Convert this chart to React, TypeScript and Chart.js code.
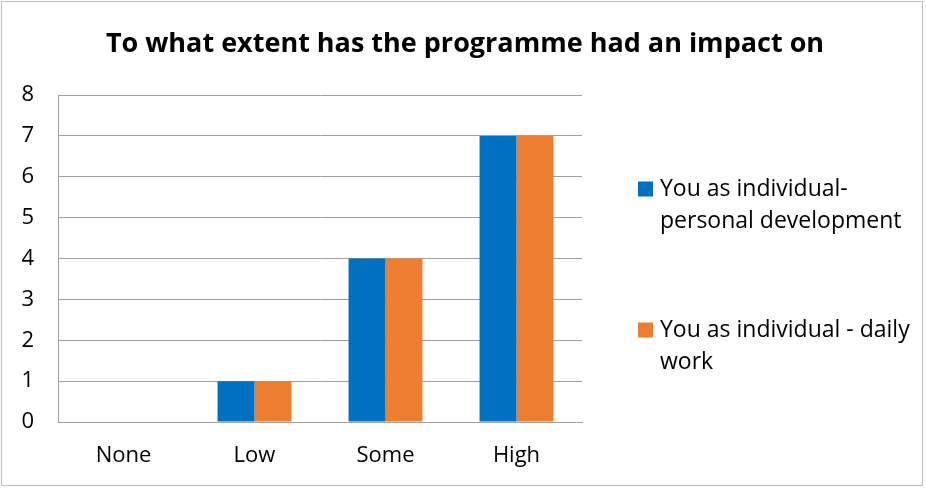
import React, { useEffect, useRef } from "react";
import { Chart, registerables } from "chart.js";

Chart.register(...registerables);

const TITLE = "To what extent has the programme had an impact on";
const categories = ["None", "Low", "Some", "High"];
const seriesNames = [
  ["You as individual-", "personal development"],
  ["You as individual - daily", "work"],
];
const personalDevelopment = [0, 1, 4, 7];
const dailyWork = [0, 1, 4, 7];
const yTicks = [0, 1, 2, 3, 4, 5, 6, 7, 8];
const colors = ["#0070C0", "#ED7D31"];

const FONT = "'Open Sans', 'DejaVu Sans', sans-serif";

const framePlugin = {
  id: "frame",
  beforeDraw(chart: any) {
    const ctx = chart.ctx;
    ctx.save();
    ctx.fillStyle = "#ffffff";
    ctx.fillRect(0, 0, chart.width, chart.height);
    ctx.strokeStyle = "#bfbfbf";
    ctx.lineWidth = 1;
    ctx.strokeRect(1.5, 1.5, chart.width - 5, chart.height - 4);
    ctx.restore();
  },
};

const titlePlugin = {
  id: "centeredTitle",
  afterDraw(chart: any) {
    const ctx = chart.ctx;
    ctx.save();
    ctx.font = `bold 27px ${FONT}`;
    ctx.fillStyle = "#000000";
    ctx.textAlign = "center";
    ctx.textBaseline = "middle";
    ctx.fillText(TITLE, chart.width / 2 + 2, 44);
    ctx.restore();
  },
};

const legendPlugin = {
  id: "wrapLegend",
  afterDraw(chart: any) {
    const ctx = chart.ctx;
    const area = chart.chartArea;
    const x = area.right + 56;
    const starts = [area.top + 94, area.top + 235];
    ctx.save();
    ctx.font = `23px ${FONT}`;
    ctx.textBaseline = "middle";
    ctx.textAlign = "left";
    chart.data.datasets.forEach((ds: any, i: number) => {
      const lines: string[] = seriesNames[i];
      const y0 = starts[i];
      ctx.fillStyle = ds.backgroundColor;
      ctx.fillRect(x, y0 - 7.5, 15, 15);
      ctx.fillStyle = "#000000";
      lines.forEach((ln, j) => {
        ctx.fillText(ln, x + 22, y0 + j * 32);
      });
    });
    ctx.restore();
  },
};

export default function App() {
  const ref = useRef<HTMLCanvasElement>(null);
  useEffect(() => {
    document.body.style.margin = "0";
    const chart = new Chart(ref.current!, {
      type: "bar",
      data: {
        labels: categories,
        datasets: [
          {
            label: seriesNames[0].join(" "),
            data: personalDevelopment,
            backgroundColor: colors[0],
            categoryPercentage: 0.564,
            barPercentage: 1,
          },
          {
            label: seriesNames[1].join(" "),
            data: dailyWork,
            backgroundColor: colors[1],
            categoryPercentage: 0.564,
            barPercentage: 1,
          },
        ],
      },
      options: {
        animation: false,
        responsive: false,
        devicePixelRatio: 1,
        layout: { padding: { left: 0, right: 344, top: 95, bottom: 0 } },
        plugins: {
          legend: { display: false },
          tooltip: { enabled: false },
          title: { display: false },
        },
        scales: {
          x: {
            grid: { display: false, drawTicks: false },
            border: { display: true, color: "#a0a0a0" },
            ticks: { color: "#000000", font: { family: FONT, size: 22 }, padding: 21 },
            afterFit(scale: any) {
              scale.height = 66;
            },
          },
          y: {
            min: 0,
            max: 8,
            afterBuildTicks(scale: any) {
              scale.ticks = yTicks.map((v) => ({ value: v }));
            },
            grid: { color: "#a0a0a0", drawTicks: false },
            border: { display: true, color: "#a0a0a0" },
            ticks: { color: "#000000", font: { family: FONT, size: 22 }, padding: 24 },
            afterFit(scale: any) {
              scale.width = 58;
            },
          },
        },
      },
      plugins: [framePlugin, titlePlugin, legendPlugin],
    });
    return () => chart.destroy();
  }, []);
  return <canvas ref={ref} width={926} height={488} style={{ display: "block" }} />;
}
